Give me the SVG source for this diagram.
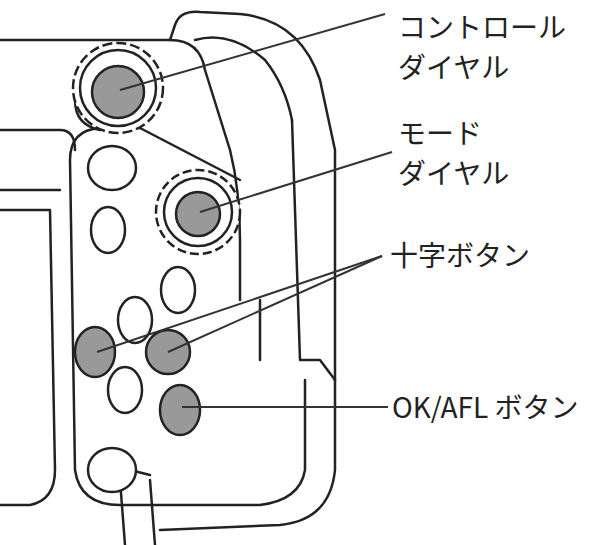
<svg xmlns="http://www.w3.org/2000/svg" width="615" height="545" viewBox="0 0 615 545">
<style>
.o{fill:none;stroke:#222;stroke-width:2.5;stroke-linejoin:round;stroke-linecap:round}
.b{fill:#fff;stroke:#222;stroke-width:2.5}
.g{fill:#999;stroke:#222;stroke-width:2.5}
.l{stroke:#333;stroke-width:2}
text{font-family:"Noto Sans CJK JP","Noto Sans",sans-serif;font-size:28px;fill:#222}
</style>
<rect width="615" height="545" fill="#fff"/>
<g id="body">
<path class="o" d="M0,40 L170,40 Q200,40 205,70 L230,150 Q240,190 240,240 L240,300"/>
<path class="o" d="M170,40 L175,25 Q180,10 200,12 L240,14 Q300,20 320,80 L335,150 L335,380"/>
<path class="o" d="M195,40 Q230,30 265,60 Q285,85 292,120"/>
<path class="o" d="M292,120 L300,360 L320,360 L335,380"/>
<path class="o" d="M335,380 L335,470 Q330,520 280,525 L160,530"/>
<path class="o" d="M305,380 L305,470 Q300,500 260,505 L120,505 Q80,505 75,470 L70,160 Q70,130 100,128 L140,128"/>
<path class="o" d="M0,130 L60,130 Q75,130 75,150"/>
<path class="o" d="M0,190 L60,190"/>
<path class="o" d="M0,210 L50,210 L55,470 Q55,500 30,505 L0,505"/>
<path class="o" d="M75,100 Q75,125 100,130"/>
<path class="o" d="M140,128 L240,180"/>
<path class="o" d="M120,480 L125,545 M150,480 L155,545"/>
<path class="o" d="M118,485 L130,470 L150,475"/>
<path class="o" d="M260,300 L260,360"/>
</g>
<g id="control-dial">
<circle class="b" cx="118" cy="88" r="45" stroke-dasharray="10 4"/>
<circle class="b" cx="118" cy="88" r="38"/>
<circle class="g" cx="118" cy="92" r="26"/>
</g>
<g id="mode-dial">
<circle class="b" cx="198" cy="212" r="42" stroke-dasharray="9 4"/>
<circle class="b" cx="198" cy="212" r="34"/>
<circle class="g" cx="198" cy="214" r="22"/>
</g>
<g id="buttons">
<ellipse class="b" cx="112" cy="168" rx="24" ry="22"/>
<ellipse class="b" cx="108" cy="230" rx="17" ry="23"/>
<ellipse class="b" cx="178" cy="290" rx="17" ry="23"/>
<ellipse class="b" cx="135" cy="320" rx="17" ry="23"/>
<ellipse class="b" cx="125" cy="390" rx="17" ry="23"/>
<ellipse class="g" cx="95" cy="352" rx="20" ry="25"/>
<ellipse class="g" cx="168" cy="352" rx="22" ry="22"/>
<ellipse class="g" cx="180" cy="410" rx="20" ry="25"/>
<ellipse class="b" cx="112" cy="470" rx="24" ry="22"/>
</g>
<g id="connectors">
<line class="l" x1="385" y1="14" x2="120" y2="90"/>
<line class="l" x1="392" y1="152" x2="200" y2="212"/>
<line class="l" x1="382" y1="256" x2="97" y2="352"/>
<line class="l" x1="382" y1="256" x2="168" y2="352"/>
<line class="l" x1="388" y1="407" x2="182" y2="407"/>
</g>
<g id="labels">
<text x="398" y="38">コントロール</text>
<text x="398" y="78">ダイヤル</text>
<text x="398" y="144">モード</text>
<text x="398" y="184">ダイヤル</text>
<text x="390" y="266">十字ボタン</text>
<text x="392" y="418">OK/AFL ボタン</text>
</g>
</svg>
